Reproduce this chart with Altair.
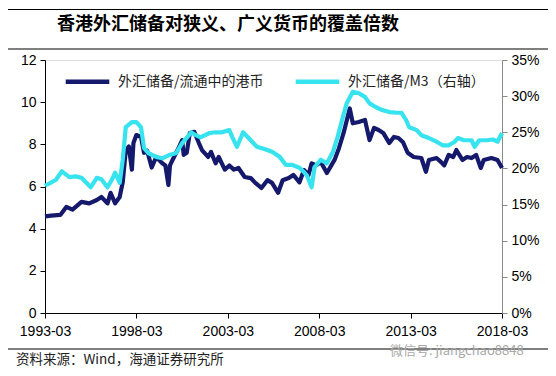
import altair as alt
import pandas as pd

NAVY = "#14196b"
CYAN = "#36e3ee"
S1 = "外汇储备/流通中的港币"
S2 = "外汇储备/M3（右轴）"

navy_months = ["1993-03","1993-07","1994-01","1994-05","1994-09","1995-03","1995-08","1996-01","1996-04","1996-08",
    "1996-10","1997-01","1997-04","1997-06","1997-08","1997-10","1997-12","1998-01","1998-03","1998-06",
    "1998-08","1998-10","1999-01","1999-04","1999-08","1999-10","1999-12","2000-01","2000-02","2000-06",
    "2000-09","2000-10","2000-12","2001-02","2001-05","2001-08","2001-10","2002-02","2002-04","2002-07",
    "2002-09","2003-01","2003-04","2003-07","2003-10","2004-02","2004-06","2004-09","2005-01","2005-05",
    "2005-08","2005-12","2006-03","2006-07","2006-10","2007-02","2007-05","2007-08","2007-10","2008-01",
    "2008-04","2008-08","2009-01","2009-04","2009-07","2009-11","2010-01","2010-05","2010-09","2010-12",
    "2011-03","2011-06","2011-09","2012-01","2012-04","2012-07","2012-10","2013-01","2013-05","2013-10",
    "2014-01","2014-03","2014-08","2014-11","2015-01","2015-04","2015-07","2015-09","2016-01","2016-04",
    "2016-07","2016-10","2017-01","2017-03","2017-08","2017-12","2018-03"]
navy_values = [4.58,4.62,4.65,5.03,4.9,5.27,5.2,5.36,5.5,5.2,
    5.7,5.2,5.5,6.2,7.7,7.9,6.8,8.06,8.44,8.35,
    7.6,7.7,6.9,7.4,7.1,7.0,6.07,7.0,7.16,7.73,
    8.2,7.5,7.6,8.54,8.59,8.06,7.73,7.4,7.64,7.1,
    7.4,6.8,7.0,6.8,6.88,6.45,6.4,6.17,5.93,6.3,
    6.17,5.7,6.3,6.4,6.55,6.2,6.78,6.55,7.1,7.0,
    7.16,6.64,7.26,7.83,8.54,9.7,9.0,9.06,9.16,8.2,
    8.78,8.68,8.54,8.06,8.35,8.3,8.1,7.6,7.4,7.35,
    6.7,7.26,7.35,7.16,7.0,7.5,7.4,7.73,7.26,7.4,
    7.35,7.5,6.88,7.26,7.35,7.26,6.88]

cyan_months = ["1993-03","1993-10","1994-02","1994-07","1994-11","1995-03","1995-09","1996-01","1996-04","1996-08",
    "1996-11","1997-01","1997-04","1997-06","1997-08","1997-12","1998-03","1998-06","1998-08","1998-11",
    "1999-04","1999-08","2000-01","2000-05","2000-09","2001-03","2001-06","2001-09","2002-03","2002-07",
    "2002-11","2003-04","2003-06","2003-09","2004-01","2004-06","2004-10","2005-03","2005-08","2006-01",
    "2006-05","2006-09","2007-02","2007-05","2007-07","2007-10","2007-12","2008-04","2008-08","2008-12",
    "2009-03","2009-06","2009-09","2010-01","2010-05","2010-09","2010-12","2011-04","2011-08","2012-01",
    "2012-06","2012-09","2012-12","2013-02","2013-07","2013-10","2014-03","2014-08","2014-12","2015-04",
    "2015-08","2015-10","2016-02","2016-07","2016-09","2016-12","2017-05","2017-09","2017-12","2018-03"]
cyan_values = [17.6,18.4,19.6,18.8,18.9,18.7,17.4,18.7,18.5,17.4,
    18.5,19.4,18.0,21.2,25.7,26.4,26.4,25.7,22.8,22.1,
    21.6,21.4,21.9,22.1,23.5,25.0,24.6,24.3,24.9,25.0,
    25.0,25.3,24.3,23.0,25.0,23.9,23.0,22.7,22.3,21.6,
    20.5,20.5,20.1,19.5,19.0,17.4,20.2,21.2,20.7,22.3,
    24.3,26.7,29.0,30.6,30.4,29.9,29.0,28.5,28.1,27.8,
    27.7,27.7,26.7,25.7,25.3,24.6,24.2,23.7,23.2,23.2,
    23.7,24.2,23.9,23.9,23.0,23.9,23.9,24.0,23.7,24.9]

x_ticks = ["1993-03", "1998-03", "2003-03", "2008-03", "2013-03", "2018-03"]
left_ticks = [0, 2, 4, 6, 8, 10, 12]
right_ticks = [0, 5, 10, 15, 20, 25, 30, 35]

title_text = "香港外汇储备对狭义、广义货币的覆盖倍数"
source_text = "资料来源：Wind，海通证券研究所"
watermark_text = "微信号: jiangchao8848"

def to_dt(m):
    return m + "-01T00:00:00"

df1 = pd.DataFrame({"date": [to_dt(m) for m in navy_months], "v": navy_values, "series": S1})
df2 = pd.DataFrame({"date": [to_dt(m) for m in cyan_months], "v": cyan_values, "series": S2})

NUM_FONT = "Liberation Sans"
CJK_FONT = "Noto Sans CJK SC"

xdom = [alt.DateTime(year=1993, month=3, date=1), alt.DateTime(year=2018, month=3, date=1)]
xvals = [alt.DateTime(year=int(t[:4]), month=int(t[5:]), date=1) for t in x_ticks]

x_enc = alt.X("date:T", scale=alt.Scale(domain=xdom),
              axis=alt.Axis(values=xvals, format="%Y-%m", title=None, grid=False,
                            labelFont=NUM_FONT, labelFontSize=14, labelColor="black",
                            domainColor="black", tickColor="black", tickSize=5,
                            labelPadding=6, labelFlush=False))

color_enc = alt.Color("series:N",
                      scale=alt.Scale(domain=[S1, S2], range=[NAVY, CYAN]),
                      legend=alt.Legend(title=None, orient="none", legendX=18, legendY=-3,
                                        direction="horizontal", symbolType="stroke",
                                        symbolStrokeWidth=4.5, symbolSize=1900,
                                        labelFont=CJK_FONT, labelFontSize=14, labelColor="#222",
                                        labelOffset=6, columnPadding=22))

line1 = alt.Chart(df1).mark_line(strokeWidth=4.2, strokeJoin="round").encode(
    x=x_enc,
    y=alt.Y("v:Q", scale=alt.Scale(domain=[0, 12], nice=False),
            axis=alt.Axis(orient="left", values=left_ticks, title=None, grid=False,
                          labelFont=NUM_FONT, labelFontSize=14, labelColor="black",
                          domainColor="black", tickColor="black", tickSize=5, labelPadding=4)),
    color=color_enc,
)

line2 = alt.Chart(df2).mark_line(strokeWidth=4.2, strokeJoin="round").encode(
    x=x_enc,
    y=alt.Y("v:Q", scale=alt.Scale(domain=[0, 35], nice=False),
            axis=alt.Axis(orient="right", values=right_ticks, title=None, grid=False,
                          labelExpr="datum.value + '%'",
                          labelFont=NUM_FONT, labelFontSize=14, labelColor="black",
                          domainColor="#8a8a8a", tickColor="#8a8a8a", tickSize=5, labelPadding=4)),
    color=color_enc,
)

lines = alt.layer(line1, line2).resolve_scale(y="independent")

def text_layer(txt, x, y, size, color="black", weight="normal", font=CJK_FONT):
    return alt.Chart(pd.DataFrame({"t": [txt]})).mark_text(
        align="left", baseline="middle", fontSize=size, font=font, fontWeight=weight, color=color
    ).encode(x=alt.value(x), y=alt.value(y), text="t:N")

def hrule(y, color="black", w=1.2):
    return alt.Chart(pd.DataFrame({"a": [0]})).mark_rule(color=color, strokeWidth=w).encode(
        x=alt.value(-37), x2=alt.value(503), y=alt.value(y))

deco = alt.layer(
    hrule(-50.5),
    hrule(-11),
    hrule(289),
    text_layer(title_text, 12, -35, 18, weight="bold"),
    text_layer(source_text, -29, 300, 13.5, color="#222"),
    text_layer(watermark_text, 345, 291, 13, color="#a8a8a8"),
)

chart = alt.layer(lines, deco).properties(
    width=457, height=253,
    autosize=alt.AutoSizeParams(type="none"),
    padding={"left": 37, "top": 52, "right": 46, "bottom": 55},
).configure_view(stroke=None).configure(background="white")

chart.save("out.html", embed_options={"renderer": "svg", "actions": False})
